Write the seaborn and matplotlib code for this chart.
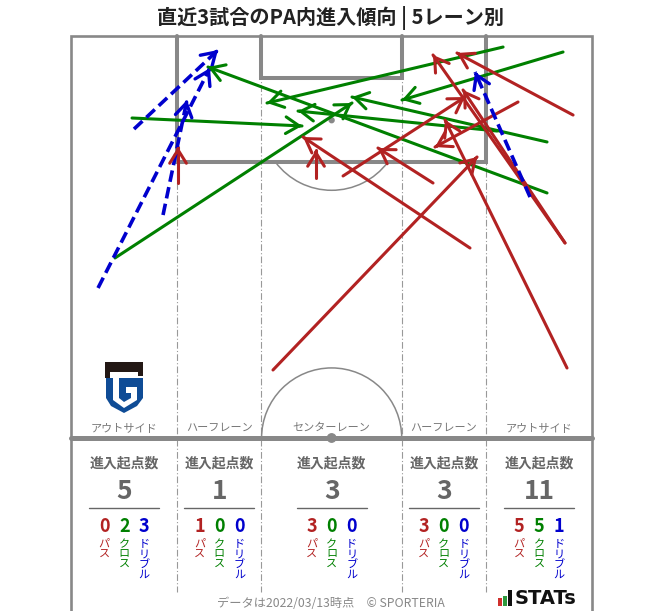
import numpy as np
import pandas as pd
import matplotlib
matplotlib.use("Agg")
import matplotlib.pyplot as plt
import seaborn as sns
from matplotlib.patches import Arc, Circle, Polygon, Rectangle

sns.set_theme(style="white")
plt.rcParams['font.family'] = ['Noto Sans CJK JP', 'DejaVu Sans']

# ---------------- data ----------------
TITLE = "直近3試合のPA内進入傾向 | 5レーン別"
lane_names = ["アウトサイド", "ハーフレーン", "センターレーン", "ハーフレーン", "アウトサイド"]
entries_total = [5, 1, 3, 3, 11]
entries_pass = [0, 1, 3, 3, 5]
entries_cross = [2, 0, 0, 0, 5]
entries_dribble = [3, 0, 0, 0, 1]
kind_names = ["パス", "クロス", "ドリブル"]
FOOTER = "データは2022/03/13時点　© SPORTERIA"

# arrows in pitch metres (x from left touchline, y from goal line)
arrow_kind = (["ドリブル"] * 4 + ["クロス"] * 7 + ["パス"] * 11)
x_start = [3.49, 11.98, 8.19, 59.91,
           7.93, 5.71, 56.39, 64.22, 62.13, 62.13, 55.60,
           13.94, 31.96, 35.49, 26.34, 47.24, 52.07, 65.53, 58.34, 64.48, 64.48, 64.74]
y_start = [32.91, 23.38, 12.15, 21.03,
           10.71, 28.99, 1.44, 2.09, 13.84, 20.50, 12.41,
           19.20, 18.55, 18.28, 43.62, 19.20, 27.69, 10.32, 8.62, 27.03, 27.03, 43.36]
x_end = [18.11, 15.11, 19.16, 52.73,
         30.13, 36.66, 25.56, 43.19, 36.66, 17.85, 29.61,
         13.94, 31.96, 51.42, 52.99, 40.05, 30.26, 50.37, 47.50, 47.24, 51.16, 48.81]
y_end = [4.18, 8.36, 1.83, 4.70,
         11.75, 8.75, 8.75, 8.36, 7.97, 4.05, 9.80,
         14.50, 14.89, 7.97, 15.80, 14.63, 13.19, 2.22, 14.50, 2.48, 7.05, 10.97]

colors = {"パス": "#b22222", "クロス": "#008000", "ドリブル": "#0000cd"}

# ---------------- layout helpers ----------------
S = 7.657          # px per metre
X0, Y0 = 71.3, 36.0  # pixel of pitch corner (left, goal line)
W, H = 663, 611


def P(xp, yp):
    return (xp - X0) / S, (yp - Y0) / S


fig = plt.figure(figsize=(W / 100, H / 100), dpi=100)
ax = fig.add_axes([0, 0, 1, 1])

GREY = "#888888"
# frame
bottom = P(0, 611)[1]
ax.plot([0, 0, 68, 68], [bottom, 0, 0, bottom], color=GREY, lw=1.9, zorder=1,
        solid_joinstyle='miter')
# halfway
ax.plot([0, 68], [52.5, 52.5], color=GREY, lw=3.6, zorder=1)
# penalty box and goal area (three sides each)
ax.plot([13.84, 13.84, 54.16, 54.16], [0, 16.5, 16.5, 0], color=GREY, lw=2.9, zorder=1,
        solid_joinstyle='miter')
ax.plot([24.84, 24.84, 43.16, 43.16], [0, 5.5, 5.5, 0], color=GREY, lw=2.9, zorder=1,
        solid_joinstyle='miter')
ax.add_patch(Circle((34, 11), 0.32, color=GREY, zorder=1))
ax.add_patch(Arc((34, 11), 18.3, 18.3, theta1=36.87, theta2=143.13, color=GREY, lw=1.1, zorder=1))
ax.add_patch(Arc((34, 52.5), 18.3, 18.3, theta1=180, theta2=360, color=GREY, lw=1.1, zorder=1))
ax.add_patch(Circle((34, 52.5), 0.55, color=GREY, zorder=2))
# lane dividers
lane_bounds = [13.84, 24.84, 43.16, 54.16]
ybot = P(0, 592)[1]
for lb in lane_bounds:
    ax.plot([lb, lb], [0, ybot], color="#999999", lw=0.8, ls=(0, (6, 2, 1, 2)), zorder=0.5)

# ---------------- arrows ----------------
rows = []
for i, k in enumerate(arrow_kind):
    rows.append(dict(id=i, kind=k, x=x_start[i], y=y_start[i]))
    rows.append(dict(id=i, kind=k, x=x_end[i], y=y_end[i]))
df = pd.DataFrame(rows)
solid = df[df["kind"] != "ドリブル"]
drib = df[df["kind"] == "ドリブル"]
sns.lineplot(data=solid, x="x", y="y", hue="kind", units="id",
             estimator=None, sort=False, palette=colors,
             linewidth=2.2, legend=False, ax=ax, zorder=3)
sns.lineplot(data=drib, x="x", y="y", hue="kind", units="id",
             estimator=None, sort=False, palette=colors, dashes=(3.2, 1.5),
             linewidth=2.6, legend=False, ax=ax, zorder=3)
for i, k in enumerate(arrow_kind):
    dx = x_end[i] - x_start[i]
    dy = y_end[i] - y_start[i]
    L = np.hypot(dx, dy)
    ux, uy = dx / L, dy / L
    ax.annotate("", xy=(x_end[i], y_end[i]),
                xytext=(x_end[i] - ux * 0.3, y_end[i] - uy * 0.3),
                arrowprops=dict(arrowstyle="->,head_length=0.48,head_width=0.3",
                                color=colors[k], lw=2.4 if k == "ドリブル" else 2.2,
                                shrinkA=0, shrinkB=0, mutation_scale=20), zorder=4)

# ---------------- texts ----------------
ax.text(*P(331, 18), TITLE, ha="center", va="center", fontsize=14.5,
        fontweight="bold", color="#222222")

lane_centres = [6.92, 19.34, 34.0, 48.66, 61.08]
for j, c in enumerate(lane_centres):
    ax.text(c, P(0, 428)[1], lane_names[j], ha="center", va="center",
            fontsize=8, color="#777777")
    ax.text(c, P(0, 463)[1], "進入起点数", ha="center", va="center",
            fontsize=10, fontweight="bold", color="#666666")
    ax.text(c, P(0, 492)[1], str(entries_total[j]), ha="center", va="center",
            fontsize=19, fontweight="bold", color="#666666")
    ax.plot([c - 35 / S, c + 35 / S], [P(0, 508)[1]] * 2, color="#666666", lw=1.0)
    vals = [entries_pass[j], entries_cross[j], entries_dribble[j]]
    for m, (v, kn) in enumerate(zip(vals, kind_names)):
        col = colors[kn]
        xx = c + (m - 1) * 20 / S
        ax.text(xx, P(0, 527)[1], str(v), ha="center", va="center",
                fontsize=13, fontweight="bold", color=col)
        ax.text(xx, P(0, 539)[1], "\n".join(kn), ha="center", va="top",
                fontsize=8, color=col, linespacing=1.05)

ax.text(*P(331, 604), FOOTER, ha="center", va="center", fontsize=8.8, color="#888888")

# STATs logo
for (x1, x2, y1, col) in [(498.5, 502.5, 598, "#d0312d"), (503, 507, 596, "#2e9a3e"),
                          (508, 512, 590, "#111111")]:
    a = P(x1, y1)
    b = P(x2, 606)
    ax.add_patch(Rectangle(a, b[0] - a[0], b[1] - a[1], color=col, lw=0, zorder=5))
ax.text(*P(515, 599), "STATs", ha="left", va="center", fontsize=14,
        fontweight="bold", color="#111111", family=["DejaVu Sans"])

# club emblem (approximation)
blk = [(105, 362), (143, 362), (143, 376), (138, 376), (138, 372), (110, 372),
       (110, 378), (105, 378)]
ax.add_patch(Polygon([P(*p) for p in blk], closed=True, color="#231815", lw=0, zorder=5))
blue = [(106, 378), (143, 378), (143, 398), (137, 406), (124, 413), (111, 406), (106, 398)]
ax.add_patch(Polygon([P(*p) for p in blue], closed=True, color="#0f4c96", lw=0, zorder=5))
wht = [(113, 378), (119, 378), (119, 398), (124, 402), (131, 398), (131, 393),
       (126, 393), (126, 387), (137, 387), (137, 400), (124, 408), (113, 400)]
ax.add_patch(Polygon([P(*p) for p in wht], closed=True, color="white", lw=0, zorder=6))

ax.set_xlim(P(0, 0)[0], P(W, 0)[0])
ax.set_ylim(P(0, H)[1], P(0, 0)[1])
ax.axis("off")
fig.savefig("out.png", dpi=100, facecolor="white")
